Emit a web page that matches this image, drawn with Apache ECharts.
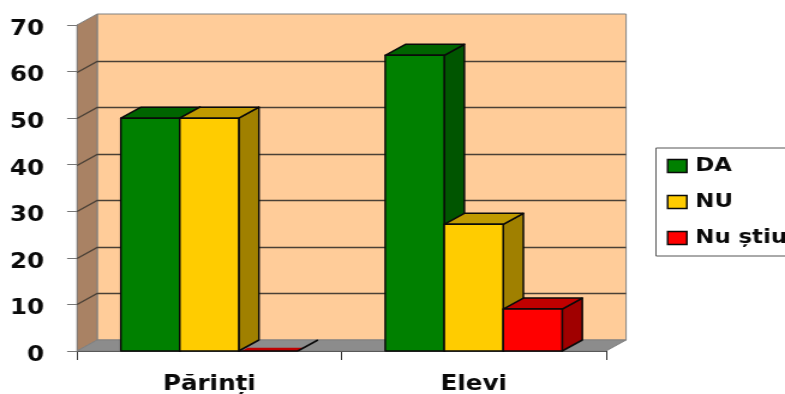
<!DOCTYPE html>
<html>
<head>
<meta charset="utf-8">
<style>
html,body{margin:0;padding:0;background:#fff;overflow:hidden;width:785px;height:394px}
/* The drawing is laid out narrower and widened as a whole, giving the broad lettering */
#c{width:654px;height:394px;transform:scaleX(1.2003);transform-origin:0 0}
</style>
<script src="https://cdn.jsdelivr.net/npm/echarts@6/dist/echarts.min.js"></script>
</head>
<body>
<div id="c"></div>
<script>
// Survey answers by respondent group
const categories = ['Părinți', 'Elevi'];
const yTicks = [0, 10, 20, 30, 40, 50, 60, 70];
const da = [50, 63.5];
const nu = [50, 27.2];
const nuStiu = [0, 9];

const font = '"DejaVu Sans", Verdana, sans-serif';
const DEPTH_X = 16.8, DEPTH_Y = -11, BAR_SHARE = 0.223;
const ink = '#0a0a0a';

// Back wall, side wall and floor of the pseudo-3D box
function renderWalls(params, api) {
  const g = params.coordSys;
  const l = g.x, r = g.x + g.width, t = g.y, b = g.y + g.height;
  const poly = (points, fill) => ({
    type: 'polygon', shape: { points },
    style: { fill, stroke: '#808080', lineWidth: 1 }
  });
  return { type: 'group', children: [
    poly([[l + DEPTH_X, t + DEPTH_Y], [r + DEPTH_X, t + DEPTH_Y], [r + DEPTH_X, b + DEPTH_Y], [l + DEPTH_X, b + DEPTH_Y]], '#FFCC99'),
    poly([[l, t], [l + DEPTH_X, t + DEPTH_Y], [l + DEPTH_X, b + DEPTH_Y], [l, b]], '#A98264'),
    poly([[l, b], [l + DEPTH_X, b + DEPTH_Y], [r + DEPTH_X, b + DEPTH_Y], [r, b]], '#8C8C8C')
  ]};
}

// Gridline running along the side wall and across the back wall
function renderGridLine(params, api) {
  const v = api.value(1);
  if (v === 0 || v === 70) return null;
  const g = params.coordSys;
  const y = Math.round(api.coord([0, v])[1]) + 0.5;
  const l = g.x, r = g.x + g.width;
  return {
    type: 'polyline',
    shape: { points: [[l, y], [l + DEPTH_X, y + DEPTH_Y], [r + DEPTH_X, y + DEPTH_Y]] },
    style: { fill: 'none', stroke: '#4a4036', lineWidth: 1.3 }
  };
}

// One box-shaped bar: front, top and side faces, all placed from the data value
function barRenderer(slot, topColor, sideColor) {
  return function (params, api) {
    const v = api.value(1);
    const top = api.coord([api.value(0), v]);
    const base = api.coord([api.value(0), 0]);
    const w = api.size([1, 0])[0] * BAR_SHARE;
    const x0 = top[0] + (slot - 1.5) * w, x1 = x0 + w;
    const y1 = top[1], y0 = base[1];
    const line = { stroke: ink, lineWidth: 1.5, lineJoin: 'round' };
    if (v === 0) {
      // An empty bar shows only a sliver of colour on the floor and its far edge
      const f = 0.3;
      return { type: 'group', children: [
        { type: 'polygon', shape: { points: [[x0 + 2.5, y0], [x0 + 2.5 + DEPTH_X * f, y0 + DEPTH_Y * f], [x1 + DEPTH_X * f, y0 + DEPTH_Y * f], [x1, y0]] },
          style: { fill: topColor } },
        { type: 'line', shape: { x1: x1, y1: y0, x2: x1 + DEPTH_X, y2: y0 + DEPTH_Y }, style: line },
        { type: 'line', shape: { x1: x0, y1: y0, x2: x1, y2: y0 }, style: line }
      ]};
    }
    return { type: 'group', children: [
      { type: 'polygon', shape: { points: [[x1, y1], [x1 + DEPTH_X, y1 + DEPTH_Y], [x1 + DEPTH_X, y0 + DEPTH_Y], [x1, y0]] },
        style: Object.assign({ fill: sideColor }, line) },
      { type: 'polygon', shape: { points: [[x0, y1], [x0 + DEPTH_X, y1 + DEPTH_Y], [x1 + DEPTH_X, y1 + DEPTH_Y], [x1, y1]] },
        style: Object.assign({ fill: topColor }, line) },
      { type: 'rect', shape: { x: x0, y: y1, width: w, height: y0 - y1 },
        style: Object.assign({ fill: api.visual('color') }, line) }
    ]};
  };
}

const points = values => values.map((v, i) => [i, v]);
const barSeries = (name, values, slot, color, topColor, sideColor) => ({
  name, type: 'custom', data: points(values), encode: { x: 0, y: 1 },
  itemStyle: { color }, clip: false, z: 5, silent: true,
  renderItem: barRenderer(slot, topColor, sideColor)
});

const chart = echarts.init(document.getElementById('c'));
chart.setOption({
  animation: false,
  backgroundColor: '#fff',
  grid: { left: 64.2, right: 149.2, top: 25, bottom: 43, outerBoundsMode: 'none' },
  legend: {
    data: ['DA', 'NU', 'Nu știu'],
    orient: 'vertical', left: 546.5, top: 148,
    padding: [6, 30, 6, 9],
    itemWidth: 16, itemHeight: 13, itemGap: 12, icon: 'rect',
    itemStyle: { borderColor: ink, borderWidth: 1.5 },
    backgroundColor: '#fff', borderColor: '#555', borderWidth: 1, borderRadius: 0,
    textStyle: { fontFamily: font, fontWeight: 'bold', fontSize: 19, color: '#0a0a0a', lineHeight: 24, padding: [0, 0, 0, 2] },
    selectedMode: false
  },
  xAxis: {
    type: 'category', data: categories,
    axisLine: { lineStyle: { color: '#333', width: 1 } },
    axisTick: { show: true, length: 9, lineStyle: { color: '#333' } },
    axisLabel: { fontFamily: font, fontWeight: 'bold', fontSize: 20.5, color: '#0a0a0a', margin: 23 },
    splitLine: { show: false }
  },
  yAxis: {
    type: 'value', min: 0, max: 70, interval: 10,
    axisLine: { show: true, lineStyle: { color: '#333', width: 1 } },
    axisTick: { show: true, length: 8.3, lineStyle: { color: '#777' } },
    axisLabel: { fontFamily: font, fontWeight: 'bold', fontSize: 20.5, color: '#0a0a0a', margin: 27.5, verticalAlign: 'top', lineHeight: 9 },
    splitLine: { show: false }
  },
  series: [
    { type: 'custom', name: 'pereți', data: [[0, 0]], encode: { x: 0, y: 1 }, clip: false, z: 1, silent: true, renderItem: renderWalls },
    { type: 'custom', name: 'grilă', data: yTicks.map(v => [0, v]), encode: { x: 0, y: 1 }, clip: false, z: 2, silent: true, renderItem: renderGridLine },
    barSeries('DA', da, 0, '#008000', '#006400', '#005500'),
    barSeries('NU', nu, 1, '#FFCC00', '#C09A00', '#A08000'),
    barSeries('Nu știu', nuStiu, 2, '#FF0000', '#C00000', '#A00000')
  ]
});
</script>
</body>
</html>
